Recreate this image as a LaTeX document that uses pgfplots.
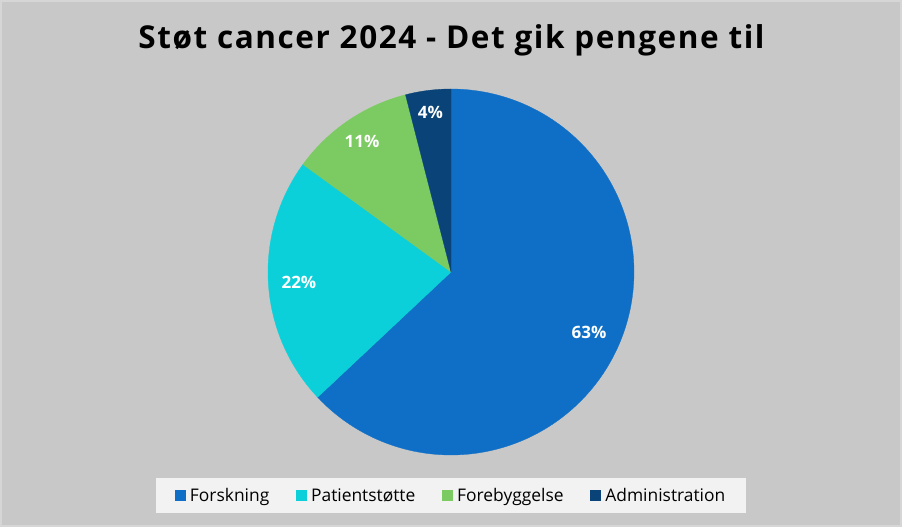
\documentclass[border=0pt]{standalone}
\usepackage{pgfplots}
\pgfplotsset{compat=1.18}
\usepackage{fontspec}
\setmainfont{Open Sans}
\newfontfamily\titlefont{Open Sans}[LetterSpace=5]
\definecolor{bg}{HTML}{C8C8C8}
\definecolor{edge}{HTML}{D6D6D6}
\definecolor{cA}{HTML}{0F6FC6}
\definecolor{cB}{HTML}{0BD0D9}
\definecolor{cC}{HTML}{7CCA62}
\definecolor{cD}{HTML}{094377}
\definecolor{legbg}{HTML}{F2F2F2}
\begin{document}
\begin{tikzpicture}[x=1pt,y=1pt]
\fill[bg] (0,0) rectangle (902,527);
\draw[edge, line width=2pt] (1,1) rectangle (901,526);
\node[font=\titlefont\bfseries\fontsize{31.5}{36}\selectfont, anchor=base, inner sep=0pt] at (451.5,478) {Støt cancer 2024 - Det gik pengene til};
% shares in percent
\def\sA{63}\def\sB{22}\def\sC{11}\def\sD{4}
\pgfmathsetmacro\aA{90}
\pgfmathsetmacro\aB{\aA-3.6*\sA}
\pgfmathsetmacro\aC{\aB-3.6*\sB}
\pgfmathsetmacro\aD{\aC-3.6*\sC}
\pgfmathsetmacro\aE{\aD-3.6*\sD}
\begin{axis}[
  at={(451pt,255pt)}, anchor=center,
  x=183pt, y=183pt, xmin=-1, xmax=1, ymin=-1, ymax=1,
  hide axis, clip=false, scale only axis,
  legend style={at={(0.5,-0.1107)}, anchor=center, legend columns=4,
    fill=legbg, draw=none, font=\fontsize{17.4}{19}\selectfont,
    inner xsep=19pt, inner ysep=8pt,
    /tikz/every even column/.append style={column sep=24.5pt}},
  legend cell align=left,
]
\addplot[fill=cA, draw=cA, line width=0.3pt, domain=\aB:\aA, samples=150,
  legend image code/.code={\fill[cA] (0pt,-5pt) rectangle (10pt,5pt); \path (13pt,0pt);}]
  ({cos(x)},{sin(x)}) -- (0,0) -- cycle;
\addlegendentry{Forskning}
\addplot[fill=cB, draw=cB, line width=0.3pt, domain=\aC:\aB, samples=60,
  legend image code/.code={\fill[cB] (0pt,-5pt) rectangle (10pt,5pt); \path (13pt,0pt);}]
  ({cos(x)},{sin(x)}) -- (0,0) -- cycle;
\addlegendentry{Patientstøtte}
\addplot[fill=cC, draw=cC, line width=0.3pt, domain=\aD:\aC, samples=40,
  legend image code/.code={\fill[cC] (0pt,-5pt) rectangle (10pt,5pt); \path (13pt,0pt);}]
  ({cos(x)},{sin(x)}) -- (0,0) -- cycle;
\addlegendentry{Forebyggelse}
\addplot[fill=cD, draw=cD, line width=0.3pt, domain=\aE:\aD, samples=20,
  legend image code/.code={\fill[cD] (0pt,-5pt) rectangle (10pt,5pt); \path (13pt,0pt);}]
  ({cos(x)},{sin(x)}) -- (0,0) -- cycle;
\addlegendentry{Administration}
\node[font=\bfseries\fontsize{17}{19}\selectfont, text=white] at (0.754,-0.328) {63\%};
\node[font=\bfseries\fontsize{17}{19}\selectfont, text=white] at (-0.831,-0.055) {22\%};
\node[font=\bfseries\fontsize{17}{19}\selectfont, text=white] at (-0.486,0.716) {11\%};
\node[font=\bfseries\fontsize{17}{19}\selectfont, text=white] at (-0.112,0.872) {4\%};
\end{axis}
\end{tikzpicture}
\end{document}
